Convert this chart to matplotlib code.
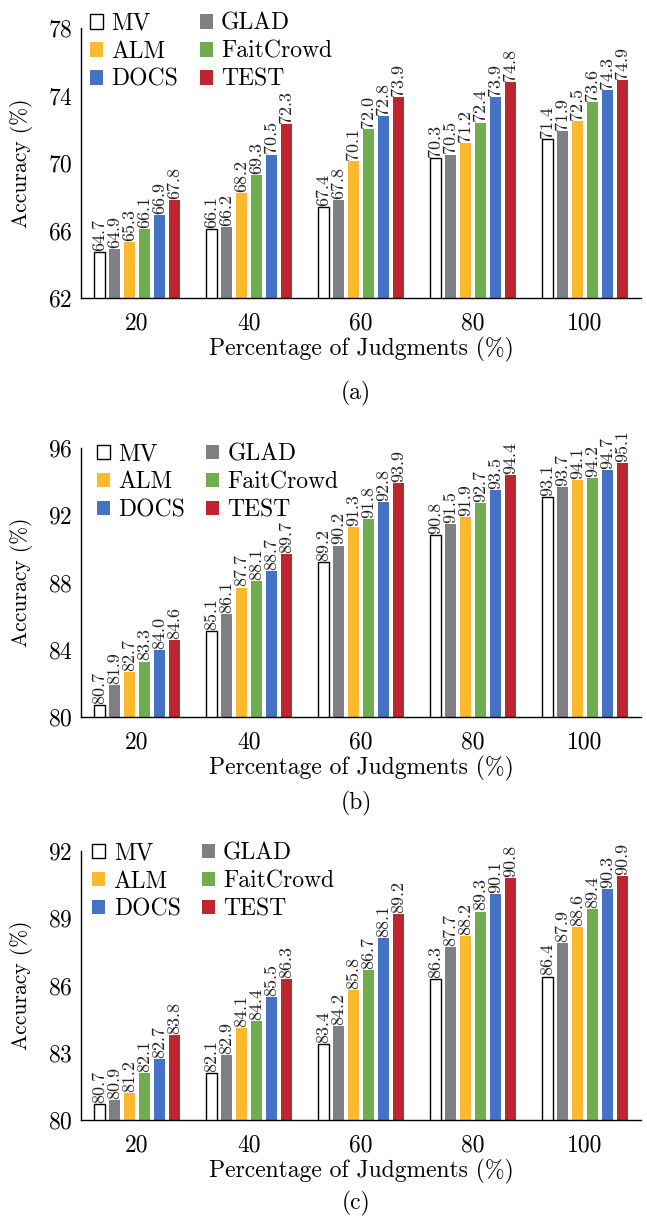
import matplotlib
matplotlib.use('Agg')
import matplotlib.pyplot as plt
import numpy as np

plt.rcParams['font.family'] = ['cmr10', 'DejaVu Serif']
plt.rcParams['mathtext.fontset'] = 'cm'
plt.rcParams['axes.formatter.use_mathtext'] = True

groups = ['20', '40', '60', '80', '100']
methods = ['MV', 'GLAD', 'ALM', 'FaitCrowd', 'DOCS', 'TEST']
colors = ['white', '#7f7f84', '#fdb92e', '#70ad50', '#4472c4', '#be262f']

acc_a = {
    'MV':        [64.7, 66.1, 67.4, 70.3, 71.4],
    'GLAD':      [64.9, 66.2, 67.8, 70.5, 71.9],
    'ALM':       [65.3, 68.2, 70.1, 71.2, 72.5],
    'FaitCrowd': [66.1, 69.3, 72.0, 72.4, 73.6],
    'DOCS':      [66.9, 70.5, 72.8, 73.9, 74.3],
    'TEST':      [67.8, 72.3, 73.9, 74.8, 74.9],
}
acc_b = {
    'MV':        [80.7, 85.1, 89.2, 90.8, 93.1],
    'GLAD':      [81.9, 86.1, 90.2, 91.5, 93.7],
    'ALM':       [82.7, 87.7, 91.3, 91.9, 94.1],
    'FaitCrowd': [83.3, 88.1, 91.8, 92.7, 94.2],
    'DOCS':      [84.0, 88.7, 92.8, 93.5, 94.7],
    'TEST':      [84.6, 89.7, 93.9, 94.4, 95.1],
}
acc_c = {
    'MV':        [80.7, 82.1, 83.4, 86.3, 86.4],
    'GLAD':      [80.9, 82.9, 84.2, 87.7, 87.9],
    'ALM':       [81.2, 84.1, 85.8, 88.2, 88.6],
    'FaitCrowd': [82.1, 84.4, 86.7, 89.3, 89.4],
    'DOCS':      [82.7, 85.5, 88.1, 90.1, 90.3],
    'TEST':      [83.8, 86.3, 89.2, 90.8, 90.9],
}

ylims = [(62, 78), (80, 96), (80, 92)]
yticks = [[62, 66, 70, 74, 78], [80, 84, 88, 92, 96], [80, 83, 86, 89, 92]]
captions = ['(a)', '(b)', '(c)']
panels = [acc_a, acc_b, acc_c]

W, H = 647, 1216
fig = plt.figure(figsize=(W / 100, H / 100), dpi=100)
# axes top/bottom in pixels from the top of the picture
tops_px = [28, 448, 851]
bots_px = [298, 717, 1120]
cap_px = [393, 803, 1203]
leg_anchor = [(0.008, 1.074), (0.02, 1.036), (0.012, 1.049)]
left, right = 81 / W, 641 / W

x = np.arange(len(groups))
step = 0.134
bw = 0.105
legend_order = [0, 2, 4, 1, 3, 5]
fs = 17

for k, data in enumerate(panels):
    ax = fig.add_axes([left, 1 - bots_px[k] / H, right - left,
                       (bots_px[k] - tops_px[k]) / H])
    span = ylims[k][1] - ylims[k][0]
    handles = []
    for i, m in enumerate(methods):
        pos = x + (i - 2.5) * step
        if m == 'MV':
            b = ax.bar(pos, data[m], bw, color='white',
                       edgecolor='black', linewidth=1.0, label=m)
        else:
            b = ax.bar(pos, data[m], bw, color=colors[i], edgecolor='none', label=m)
        handles.append(b)
        for p, v in zip(pos, data[m]):
            ax.text(p, v + 0.004 * span, '%.1f' % v,
                    rotation=90, ha='center', va='bottom', fontsize=13,
                    color='#222222')
    ax.set_xlim(-0.5, 4.5)
    ax.set_ylim(*ylims[k])
    ax.set_yticks(yticks[k])
    ax.set_xticks(x)
    ax.set_xticklabels(groups)
    ax.tick_params(axis='x', length=0, labelsize=fs, pad=10)
    ax.tick_params(axis='y', length=0, labelsize=fs, pad=6)
    for s in ['top', 'right']:
        ax.spines[s].set_visible(False)
    ax.spines['left'].set_linewidth(1.0)
    ax.spines['bottom'].set_linewidth(1.0)
    ax.set_ylabel('Accuracy (%)', fontsize=15.5, labelpad=11)
    ax.set_xlabel('Percentage of Judgments (%)', fontsize=fs, labelpad=2)
    ax.legend([handles[j] for j in legend_order],
              [methods[j] for j in legend_order],
              ncol=2, loc='upper left', bbox_to_anchor=leg_anchor[k],
              frameon=False, fontsize=fs, handlelength=0.55,
              handleheight=0.55, handletextpad=0.35, columnspacing=0.9,
              labelspacing=0.25, borderaxespad=0.0, borderpad=0.2)
    fig.text(356 / W, 1 - cap_px[k] / H, captions[k],
             ha='center', va='center', fontsize=fs)

fig.savefig('out.png', dpi=100)
